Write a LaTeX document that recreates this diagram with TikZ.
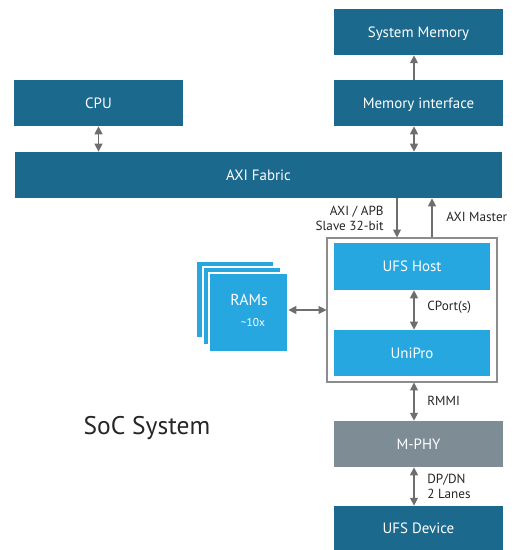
\documentclass[tikz,border=0pt]{standalone}
\usepackage{fontspec}
\setmainfont{PT Sans}
\usetikzlibrary{arrows.meta}
\definecolor{darkteal}{HTML}{1B6A8E}
\definecolor{lightblue}{HTML}{27A7DF}
\definecolor{phygray}{HTML}{7E8C95}
\definecolor{linegray}{HTML}{6E6E6E}
\begin{document}
\begin{tikzpicture}[x=0.02cm,y=-0.02cm,
    >={Triangle[width=4.5pt,length=4.5pt]},
    block/.style={fill=darkteal,text=white,font=\fontsize{8.5}{10}\selectfont,
      minimum width=3.38cm,minimum height=0.92cm,inner sep=0pt,text depth=0pt},
    inblock/.style={block,fill=lightblue,minimum width=3.12cm},
    ram/.style={fill=lightblue,draw=white,line width=1pt},
    conn/.style={draw=linegray,line width=0.6pt},
    lbl/.style={font=\fontsize{7.5}{8.5}\selectfont,text=black!85,inner sep=0pt}]
    \useasboundingbox (0,0) rectangle (513,550);
    \coordinate (mid) at (414,0);
    \coordinate (dn) at (397,0);
    \coordinate (up) at (432,0);
    \node[block] (sysmem) at (418.5,32) {System Memory};
    \node[block] (cpu) at (98.5,103) {CPU};
    \node[block] (memif) at (418.5,103) {Memory interface};
    \node[block,minimum width=9.74cm] (axi) at (258.5,175) {AXI Fabric};
    \node[draw=black!45,fill=white,line width=0.6pt,minimum width=3.4cm,minimum height=2.88cm] (frame) at (412,310) {};
    \node[inblock,minimum height=0.94cm] (host) at (412,266.5) {UFS Host};
    \node[inblock] (unipro) at (412,353) {UniPro};
    \node[block,fill=phygray] (mphy) at (418.5,444) {M-PHY};
    \node[block,minimum height=0.88cm] (dev) at (418.5,528) {UFS Device};
    \draw[ram] (196,261) rectangle (274,338);
    \draw[ram] (203,267) rectangle (281,345);
    \draw[ram] (209,273) rectangle (288,352);
    \node[inner sep=0pt,minimum width=1.58cm,minimum height=1.58cm] (rams) at (248.5,312.5) {};
    \node[text=white,font=\fontsize{9}{10}\selectfont] (ramtxt) at (249,300) {RAMs};
    \node[text=white,font=\fontsize{6.5}{8}\selectfont] (ramcnt) at (253,323) {\textasciitilde10x};
    \draw[conn,<->] (cpu.south) -- (cpu.south |- axi.north);
    \draw[conn,<->] (memif.south -| mid) -- (axi.north -| mid);
    \draw[conn,->] (memif.north -| mid) -- (sysmem.south -| mid);
    \draw[conn,->] (axi.south -| dn) -- (frame.north -| dn);
    \draw[conn,->] (frame.north -| up) -- (axi.south -| up);
    \draw[conn,<->] (frame.west) -- (frame.west -| rams.east);
    \draw[conn,<->] (host.south -| mid) -- (unipro.north -| mid);
    \draw[conn,<->] (frame.south -| mid) -- (mphy.north -| mid);
    \draw[conn,<->] (mphy.south -| mid) -- (dev.north -| mid);
    \node[lbl,anchor=east,align=right] (axislv) at (384,218) {AXI / APB\\Slave 32-bit};
    \node[lbl,anchor=west] (aximst) at (446,217) {AXI Master};
    \node[lbl,anchor=west] (cport) at (427,307) {CPort(s)};
    \node[lbl,anchor=west] (rmmi) at (427,401) {RMMI};
    \node[lbl,anchor=west,align=left] (lanes) at (427,486) {DP/DN\\2 Lanes};
    \node[font=\fontsize{14.5}{16}\selectfont,text=black!85] (soc) at (147,428) {SoC System};
\end{tikzpicture}
\end{document}
